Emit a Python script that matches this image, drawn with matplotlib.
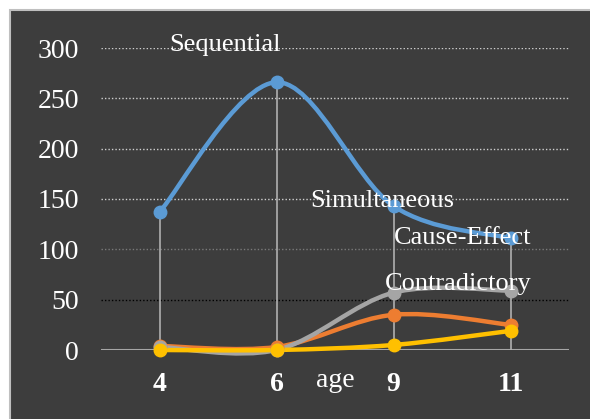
import matplotlib.pyplot as plt
from matplotlib.path import Path
from matplotlib.patches import PathPatch, Rectangle

ages = ["4", "6", "9", "11"]
sequential = [137, 266, 143, 111]
cause_effect = [4, 3, 35, 25]
contradictory = [3, 0, 57, 59]
simultaneous = [0, 0, 5, 19]

labels = ["Sequential", "Simultaneous", "Cause-Effect", "Contradictory"]
label_x = [0.56, 1.90, 2.59, 2.55]
label_y = [303, 148, 111, 66]

yticks = [0, 50, 100, 150, 200, 250, 300]

plt.rcParams['font.family'] = ['Liberation Serif', 'DejaVu Serif']

fig = plt.figure(figsize=(5.9, 4.19), dpi=100, facecolor='white')
fig.patches.append(Rectangle((10 / 590, -0.01), 1, 1 - 10 / 419 + 0.01,
                             transform=fig.transFigure, facecolor='#3d3d3d',
                             edgecolor='#bfbfbf', linewidth=1.5, zorder=-10))
ax = fig.add_axes([101 / 590, 69 / 419, 468 / 590, 302 / 419])
ax.set_facecolor('none')
for s in ax.spines.values():
    s.set_visible(False)


def smooth(ax, y, color):
    # excel-style smoothed line: catmull-rom converted to bezier segments
    x = list(range(len(y)))
    verts = [(x[0], y[0])]
    codes = [Path.MOVETO]
    n = len(y)
    for i in range(n - 1):
        p0 = (x[max(i - 1, 0)], y[max(i - 1, 0)])
        p1 = (x[i], y[i])
        p2 = (x[i + 1], y[i + 1])
        p3 = (x[min(i + 2, n - 1)], y[min(i + 2, n - 1)])
        c1 = (p1[0] + (p2[0] - p0[0]) / 6, p1[1] + (p2[1] - p0[1]) / 6)
        c2 = (p2[0] - (p3[0] - p1[0]) / 6, p2[1] - (p3[1] - p1[1]) / 6)
        verts += [c1, c2, p2]
        codes += [Path.CURVE4] * 3
    ax.add_patch(PathPatch(Path(verts, codes), facecolor='none', edgecolor=color,
                           linewidth=3.2, capstyle='round', clip_on=False, zorder=3))
    ax.plot(x, y, 'o', color=color, markersize=9, clip_on=False, zorder=4)


# gridlines
grid_colors = {50: 'black', 100: '#7a7a7a', 150: '#d0d0d0', 200: '#d0d0d0',
               250: '#d0d0d0', 300: '#d0d0d0'}
for v, c in grid_colors.items():
    ax.axhline(v, color=c, linestyle=(0, (1, 1.5)), linewidth=1, zorder=1)
ax.axhline(0, color='#a6a6a6', linewidth=1.5, zorder=1)

# drop lines
top = [max(vals) for vals in zip(sequential, cause_effect, contradictory, simultaneous)]
ax.vlines(range(len(ages)), 0, top, color='#b0b0b0', linewidth=1.2, zorder=2)

for vals, col in [(sequential, '#5b9bd5'), (cause_effect, '#ed7d31'),
                  (contradictory, '#a5a5a5'), (simultaneous, '#ffc000')]:
    smooth(ax, vals, col)

for t, lx, ly in zip(labels, label_x, label_y):
    ax.text(lx, ly, t, color='white', fontsize=19, ha='center', va='center', zorder=5)

ax.set_xlim(-0.5, 3.5)
ax.set_ylim(0, 300)
ax.set_xticks(range(len(ages)))
ax.set_xticklabels(ages, fontsize=20, fontweight='bold', color='white')
ax.set_yticks(yticks)
ax.set_yticklabels([str(v) for v in yticks], fontsize=20, color='white')
ax.tick_params(length=0)
ax.tick_params(axis='x', pad=16)
ax.tick_params(axis='y', pad=16)
ax.text(1.5, -30, 'age', color='white', fontsize=20, ha='center', va='center')

fig.savefig('out.png', dpi=100, facecolor='white')
